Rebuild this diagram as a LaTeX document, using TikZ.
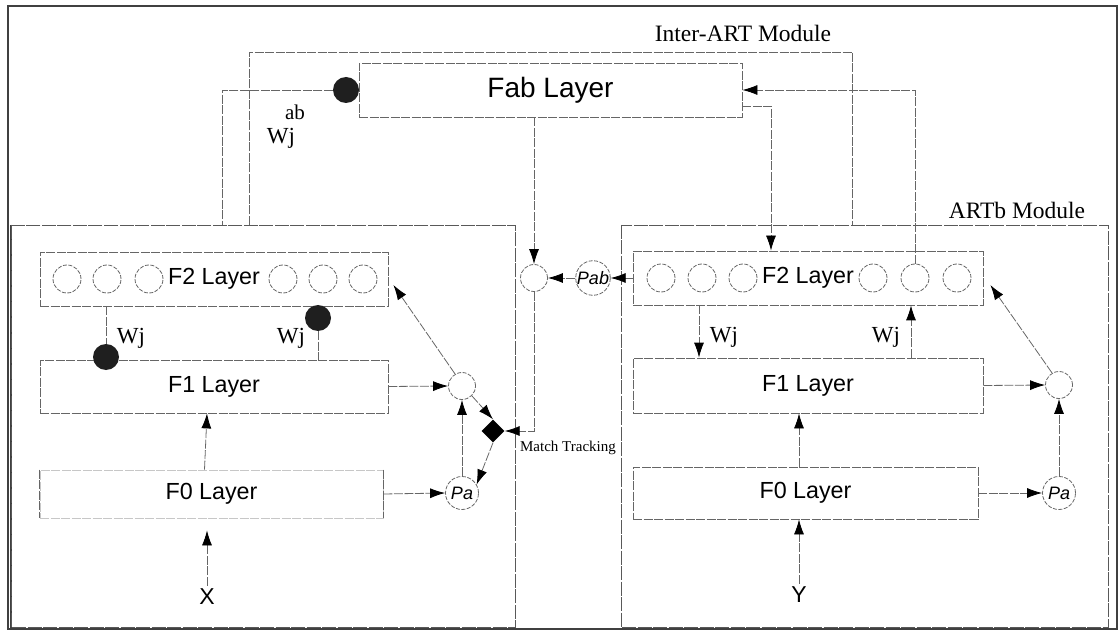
\documentclass[tikz,border=0pt]{standalone}
\usepackage{fontspec}
\setmainfont{Liberation Serif}
\newfontfamily\arialf{Liberation Sans}
\usetikzlibrary{arrows.meta,shapes.geometric}
\begin{document}
\begin{tikzpicture}[x=1pt,y=-1pt,
  ln/.style={draw=black!60, line width=0.8pt, dash pattern=on 9pt off 1.5pt},
  arr/.style={ln, -{Latex[length=15pt,width=10pt,black]}},
  modbox/.style={draw=black!65, line width=0.9pt, dash pattern=on 14pt off 1.5pt},
  layerbox/.style={ln, rectangle, inner sep=0pt, font=\arialf\fontsize{23.3}{25}\selectfont},
  neuron/.style={ln, circle, minimum size=28pt, inner sep=0pt, dash pattern=on 4pt off 1.5pt},
  vig/.style={ln, circle, minimum size=27pt, inner sep=0pt, dash pattern=on 4pt off 1.5pt},
  rho/.style={ln, circle, minimum size=33pt, inner sep=0pt, dash pattern=on 4pt off 1.5pt, font=\arialf\itshape\fontsize{18}{20}\selectfont},
  wdot/.style={circle, fill=black!88, minimum size=26pt, inner sep=0pt},
  wlab/.style={font=\fontsize{23}{25}\selectfont},
  modlab/.style={font=\fontsize{23.5}{25}\selectfont},
  io/.style={font=\arialf\fontsize{23}{25}\selectfont}
]
\useasboundingbox (0,0) rectangle (1120,631);
% outer frame
\draw[black!75, line width=1.3pt] (8,6) rectangle (1117,629);
\draw[black!75, line width=1.3pt] (11,225) -- (11,629);
% module boxes
\draw[modbox] (11,225) rectangle (515,627);
\draw[modbox] (621,225) rectangle (1108,627);

% labels
\node[modlab] (lint) at (743,33) {Inter-ART Module};
\node[modlab] (lartb) at (1017,210) {ARTb Module};

% Fab layer
\node[layerbox, minimum width=383pt, minimum height=54pt, font=\arialf\fontsize{28}{30}\selectfont] (Fab) at (550.5,90) {Fab Layer};
\node[wdot] (wab) at (346,90) {};
\node[font=\fontsize{21}{23}\selectfont] (labab) at (295,112) {ab};
\node[wlab] (labwab) at (281,138) {Wj};

% ---------- left module ----------
\node[layerbox, minimum width=348pt, minimum height=54pt] (F2a) at (214,279) {F2 Layer};
\node[layerbox, minimum width=348pt, minimum height=53pt] (F1a) at (214,386.5) {F1 Layer};
\node[layerbox, draw=black!22, minimum width=343pt, minimum height=48pt] (F0a) at (211.5,494) {F0 Layer};
\draw[ln] (F0a.north west) -- (F0a.south west);
\draw[ln] (F0a.north east) -- (F0a.south east);
\foreach \i/\x in {1/67,2/107,3/149,4/283,5/323,6/363}{
  \node[neuron] (a\i) at (\x,279) {};
}
\node[wdot] (wa1) at (106,357) {};
\node[wdot] (wa2) at (318,318) {};
\node[wlab] (lwa1) at (131,338) {Wj};
\node[wlab] (lwa2) at (291,338) {Wj};
\node[vig] (ca) at (462,386) {};
\node[rho] (paa) at (462,493) {Pa};
\node[diamond, fill=black, minimum size=23pt, inner sep=0pt] (dia) at (493,431) {};
\node[font=\fontsize{15}{17}\selectfont] (mt) at (568,448) {Match Tracking};
\node[io] (X) at (207,597) {X};

% ---------- right module ----------
\node[layerbox, minimum width=350pt, minimum height=54pt] (F2b) at (808,278) {F2 Layer};
\node[layerbox, minimum width=350pt, minimum height=55pt] (F1b) at (808,385.5) {F1 Layer};
\node[layerbox, minimum width=345pt, minimum height=52pt] (F0b) at (805.5,493) {F0 Layer};
\foreach \i/\x in {1/661,2/702,3/743,4/873,5/915,6/957}{
  \node[neuron] (b\i) at (\x,278) {};
}
\node[wlab] (lwb1) at (724,337) {Wj};
\node[wlab] (lwb2) at (886,337) {Wj};
\node[vig] (cb) at (1059,385) {};
\node[rho] (pab2) at (1059,493) {Pa};
\node[io] (Y) at (799,595) {Y};

% ---------- middle ----------
\node[vig] (mid) at (534,278) {};
\node[rho, minimum size=33pt, font=\arialf\itshape\fontsize{18}{20}\selectfont] (pab) at (593,278) {Pab};

% ---------- connectors ----------
\coordinate (ia) at (249,225);
\coordinate (ib) at (852,225);
\coordinate (ja) at (222,225);
\draw[ln] (ia) -- (249,52) -- (852,52) -- (ib);
\draw[ln] (wab.west) -| (ja);
\draw[arr] (b5.north) |- (Fab.east);
\draw[arr] ([yshift=-16pt]Fab.east) -| ([xshift=-37pt]F2b.north);
\draw[arr] (Fab.south -| mid.north) -- (mid.north);
\draw[arr] (mid.south) |- (dia.east);
\draw[arr] (F2b.west) -- (pab.east);
\draw[arr] (pab.west) -- (mid.east);

% left module connectors
\draw[ln] ([xshift=-108pt]F2a.south) -- (wa1);
\draw[ln] (wa2) -- (wa2 |- F1a.north);
\draw[arr] ([xshift=-7pt]F0a.north) -- ([xshift=-7pt]F1a.south);
\draw[arr] (X.north) -- ([xshift=-4.5pt,yshift=-12pt]F0a.south);
\draw[arr] (F1a.east) -- (ca.west);
\draw[arr] (F0a.east) -- (paa.west);
\draw[arr] (paa.north) -- (ca.south);
\draw[arr] (ca.south east) -- (dia.north);
\draw[arr] (dia.south) -- (paa.30);
\draw[arr] (ca.120) -- ([xshift=5pt,yshift=-6pt]F2a.east);

% right module connectors
\draw[arr] ([xshift=-109pt]F2b.south) -- ([xshift=-109pt]F1b.north);
\draw[arr] ([xshift=103pt]F1b.north) -- ([xshift=103pt]F2b.south);
\draw[arr] ([xshift=-6.5pt]F0b.north) -- ([xshift=-9pt]F1b.south);
\draw[arr] (Y.north) -- (Y.north |- F0b.south);
\draw[arr] (F1b.east) -- (cb.west);
\draw[arr] (F0b.east) -- (pab2.west);
\draw[arr] (pab2.north) -- (cb.south);
\draw[arr] (cb.120) -- ([xshift=7pt,yshift=-7pt]F2b.east);
\end{tikzpicture}
\end{document}
